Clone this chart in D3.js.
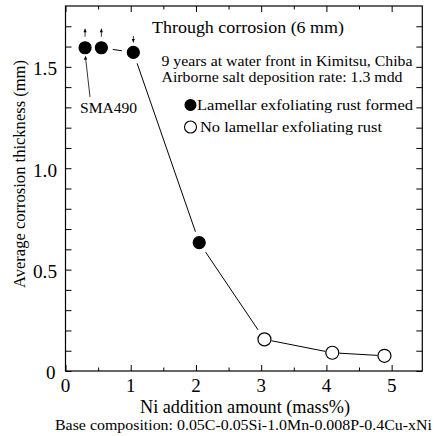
<!DOCTYPE html>
<html>
<head>
<meta charset="utf-8">
<script src="https://cdn.jsdelivr.net/npm/d3@7"></script>
<style>
  body { margin: 0; background: #fff; }
</style>
</head>
<body>
<svg id="chart" width="434" height="436"></svg>
<script>
// data
let niAmount = [0.30, 0.55, 1.04, 2.05, 3.05, 4.09, 4.89];       // mass%
let thickness = [1.594, 1.594, 1.571, 0.633, 0.156, 0.090, 0.075]; // mm
let rustFormed = [true, true, true, true, false, false, false];
let throughArrow = ["up", "up", "down", null, null, null, null];    // through corrosion marks
let xTicks = [0, 1, 2, 3, 4, 5];
let yTicks = [0, 0.5, 1.0, 1.5];

let serif = "Liberation Serif";
let svg = d3.select("#chart");
let W = 434, H = 436;
let margin = {top: 6, left: 65.5, right: 11.7, bottom: 65};
let xMax = 5.47, yMax = 1.8;

let x = d3.scaleLinear().domain([0, xMax]).range([margin.left, W - margin.right]);
let y = d3.scaleLinear().domain([0, yMax]).range([H - margin.bottom, margin.top]);

let points = niAmount.map((d, i) => ({x: d, y: thickness[i], filled: rustFormed[i], arrow: throughArrow[i]}));

// text helper, width pinned to what the figure shows
function label(px, py, size, str, anchor, len) {
    let t = svg.append("text").attr("x", px).attr("y", py)
        .attr("font-family", serif).attr("font-size", size)
        .attr("text-anchor", anchor || "start").attr("fill", "#000").text(str);
    if (len) t.attr("textLength", len).attr("lengthAdjust", "spacingAndGlyphs");
    return t;
}

// frame
svg.append("rect").attr("x", x(0)).attr("y", y(yMax))
    .attr("width", x(xMax) - x(0)).attr("height", y(0) - y(yMax))
    .attr("fill", "none").attr("stroke", "#000").attr("stroke-width", 1.2);

let xMinor = d3.range(0.5, 5.5, 1);
let yMinor = d3.range(1, 18).map(i => i / 10).filter(v => yTicks.indexOf(v) < 0);

function tickStyle(g) {
    g.select(".domain").remove();
    g.selectAll("line").attr("stroke", "#000").attr("stroke-width", 1);
    g.selectAll("text").remove();
}

// inward ticks on all four sides
svg.append("g").attr("transform", "translate(0," + y(0) + ")")
    .call(d3.axisBottom(x).tickValues(xTicks).tickSize(-6)).call(tickStyle);
svg.append("g").attr("transform", "translate(0," + y(0) + ")")
    .call(d3.axisBottom(x).tickValues(xMinor).tickSize(-3.5)).call(tickStyle);
svg.append("g").attr("transform", "translate(0," + y(yMax) + ")")
    .call(d3.axisTop(x).tickValues(xTicks).tickSize(-6)).call(tickStyle);
svg.append("g").attr("transform", "translate(0," + y(yMax) + ")")
    .call(d3.axisTop(x).tickValues(xMinor).tickSize(-3.5)).call(tickStyle);
svg.append("g").attr("transform", "translate(" + x(0) + ",0)")
    .call(d3.axisLeft(y).tickValues(yTicks.concat(yMinor)).tickSize(-6)).call(tickStyle);
svg.append("g").attr("transform", "translate(" + x(xMax) + ",0)")
    .call(d3.axisRight(y).tickValues(yTicks.concat(yMinor)).tickSize(-6)).call(tickStyle);

// tick labels
xTicks.forEach(d => label(x(d), y(0) + 21, 19, d, "middle"));
yTicks.forEach(d => {
    if (d === 0) label(x(0) - 10, y(0) + 8, 19, "0", "end");
    else label(x(0) - 8.5, y(d) + 8.5, 19, d3.format(".1f")(d), "end", 24);
});

// axis titles
label(245, 413, 18, "Ni addition amount (mass%)", "middle", 210);
label(243.5, 430, 14.5, "Base composition: 0.05C-0.05Si-1.0Mn-0.008P-0.4Cu-xNi", "middle", 377);
svg.append("text").attr("transform", "translate(24.5,174) rotate(-90)").attr("text-anchor", "middle")
    .attr("font-family", serif).attr("font-size", 17.5)
    .attr("textLength", 228).attr("lengthAdjust", "spacingAndGlyphs")
    .text("Average corrosion thickness (mm)");

// connecting segments, with gaps near the markers
for (let i = 1; i < points.length - 1; i++) {
    let a = points[i], b = points[i + 1];
    let x1 = x(a.x), y1 = y(a.y), x2 = x(b.x), y2 = y(b.y);
    let len = Math.hypot(x2 - x1, y2 - y1);
    let gap = (!a.filled && !b.filled) ? 7 : 11.5;
    let ux = (x2 - x1) / len, uy = (y2 - y1) / len;
    svg.append("line")
        .attr("x1", x1 + ux * gap).attr("y1", y1 + uy * gap)
        .attr("x2", x2 - ux * gap).attr("y2", y2 - uy * gap)
        .attr("stroke", "#000").attr("stroke-width", 1);
}

// markers
svg.append("g").selectAll("circle").data(points).enter().append("circle")
    .attr("cx", d => x(d.x)).attr("cy", d => y(d.y))
    .attr("r", d => d.filled ? 6 : 6.5)
    .attr("fill", d => d.filled ? "#000" : "#fff")
    .attr("stroke", "#000").attr("stroke-width", 1.2);

// small arrows for through corrosion
points.filter(d => d.arrow).forEach(d => {
    let cx = x(d.x), cy = y(d.y);
    let top = d.arrow === "up" ? cy - 19 : cy - 16.5;
    let bot = d.arrow === "up" ? cy - 11 : cy - 10;
    svg.append("line").attr("x1", cx).attr("x2", cx).attr("y1", top).attr("y2", bot)
        .attr("stroke", "#000").attr("stroke-width", 0.8);
    let tip = d.arrow === "up" ? top : bot;
    let s = d.arrow === "up" ? 1 : -1;
    svg.append("path")
        .attr("d", "M" + cx + "," + tip + "L" + (cx - 1.6) + "," + (tip + s * 3.5) + "L" + (cx + 1.6) + "," + (tip + s * 3.5) + "Z")
        .attr("fill", "#000");
});

// SMA490 pointer
let p0 = points[0];
svg.append("line").attr("x1", 90).attr("y1", 97).attr("x2", x(p0.x) + 0.5).attr("y2", y(p0.y) + 10)
    .attr("stroke", "#000").attr("stroke-width", 0.8);
svg.append("path")
    .attr("d", "M" + (x(p0.x) + 0.5) + "," + (y(p0.y) + 8) + "l-1.8,4l3.4,-0.3Z").attr("fill", "#000");
label(80, 113, 15.5, "SMA490", "start", 57);

// annotations
label(152, 33, 16.5, "Through corrosion (6 mm)", "start", 192);
label(161.5, 65.5, 15.5, "9 years at water front in Kimitsu, Chiba", "start", 251);
label(161.5, 82, 15.5, "Airborne salt deposition rate: 1.3 mdd", "start", 241);

// legend
let legendRows = [{filled: true, label: "Lamellar exfoliating rust formed", yy: 105, tx: 197, len: 216},
                  {filled: false, label: "No lamellar exfoliating rust", yy: 127, tx: 200, len: 182}];
legendRows.forEach(d => {
    svg.append("circle").attr("cx", 190.5).attr("cy", d.yy).attr("r", d.filled ? 5.5 : 6)
        .attr("fill", d.filled ? "#000" : "#fff").attr("stroke", "#000").attr("stroke-width", 1.1);
    label(d.tx, d.yy + 5, 15.5, d.label, "start", d.len);
});
</script>
</body>
</html>
